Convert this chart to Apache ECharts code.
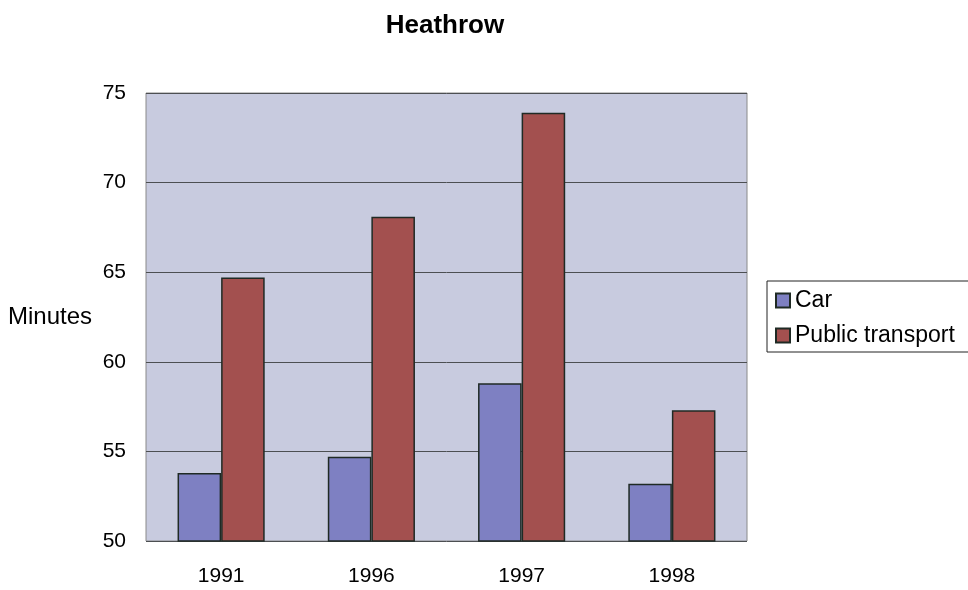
<!DOCTYPE html>
<html>
<head>
<meta charset="utf-8">
<title>Heathrow</title>
<script src="https://cdn.jsdelivr.net/npm/echarts@6/dist/echarts.min.js"></script>
<style>
  html, body { margin: 0; padding: 0; background: #ffffff; }
  #chart { width: 968px; height: 590px; }
</style>
</head>
<body>
<div id="chart"></div>
<script>
// Journey times to Heathrow, in minutes
const years = ['1991', '1996', '1997', '1998'];
const carMinutes = [53.8, 54.7, 58.8, 53.2];
const publicTransportMinutes = [64.7, 68.1, 73.9, 57.3];
const yTicks = { min: 50, max: 75, step: 5 };

const font = '"Liberation Sans", Arial, sans-serif';
const chart = echarts.init(document.getElementById('chart'), null, { renderer: 'canvas' });

chart.setOption({
  backgroundColor: '#ffffff',
  animation: false,
  title: {
    text: 'Heathrow',
    left: 440,
    textAlign: 'center',
    top: 8,
    textStyle: { fontFamily: font, fontSize: 26, fontWeight: 'bold', color: '#000' }
  },
  grid: {
    left: 146, right: 221, top: 93, bottom: 49,
    show: true,
    backgroundColor: '#c8cbdf',
    borderColor: '#8a8a8a',
    borderWidth: 1
  },
  legend: {
    orient: 'vertical',
    left: 767,
    top: 281,
    padding: [8, 20, 5, 8],
    itemGap: 12,
    itemWidth: 14,
    itemHeight: 14,
    icon: 'rect',
    backgroundColor: '#ffffff',
    borderColor: '#222',
    borderWidth: 1,
    textStyle: { fontFamily: font, fontSize: 23, color: '#000', width: 170 },
    data: ['Car', 'Public transport']
  },
  xAxis: {
    type: 'category',
    data: years,
    axisTick: { show: false },
    axisLine: { show: false },
    axisLabel: { fontFamily: font, fontSize: 21, color: '#000', margin: 25 }
  },
  yAxis: {
    type: 'value',
    name: 'Minutes',
    nameLocation: 'middle',
    nameRotate: 0,
    nameGap: 54,
    nameTextStyle: { fontFamily: font, fontSize: 24, color: '#000', align: 'right' },
    min: yTicks.min,
    max: yTicks.max,
    interval: yTicks.step,
    axisLine: { show: false },
    axisTick: { show: false },
    axisLabel: { fontFamily: font, fontSize: 21, color: '#000', margin: 20 },
    splitLine: { lineStyle: { color: '#4c4f52', width: 1 } }
  },
  series: [
    {
      name: 'Car',
      type: 'bar',
      data: carMinutes,
      barGap: '0%',
      barCategoryGap: '42%',
      itemStyle: { color: '#7e80c2', borderColor: '#1f2a24', borderWidth: 1.5 }
    },
    {
      name: 'Public transport',
      type: 'bar',
      data: publicTransportMinutes,
      itemStyle: { color: '#a3504f', borderColor: '#1f2a24', borderWidth: 1.5 }
    }
  ]
});
</script>
</body>
</html>
